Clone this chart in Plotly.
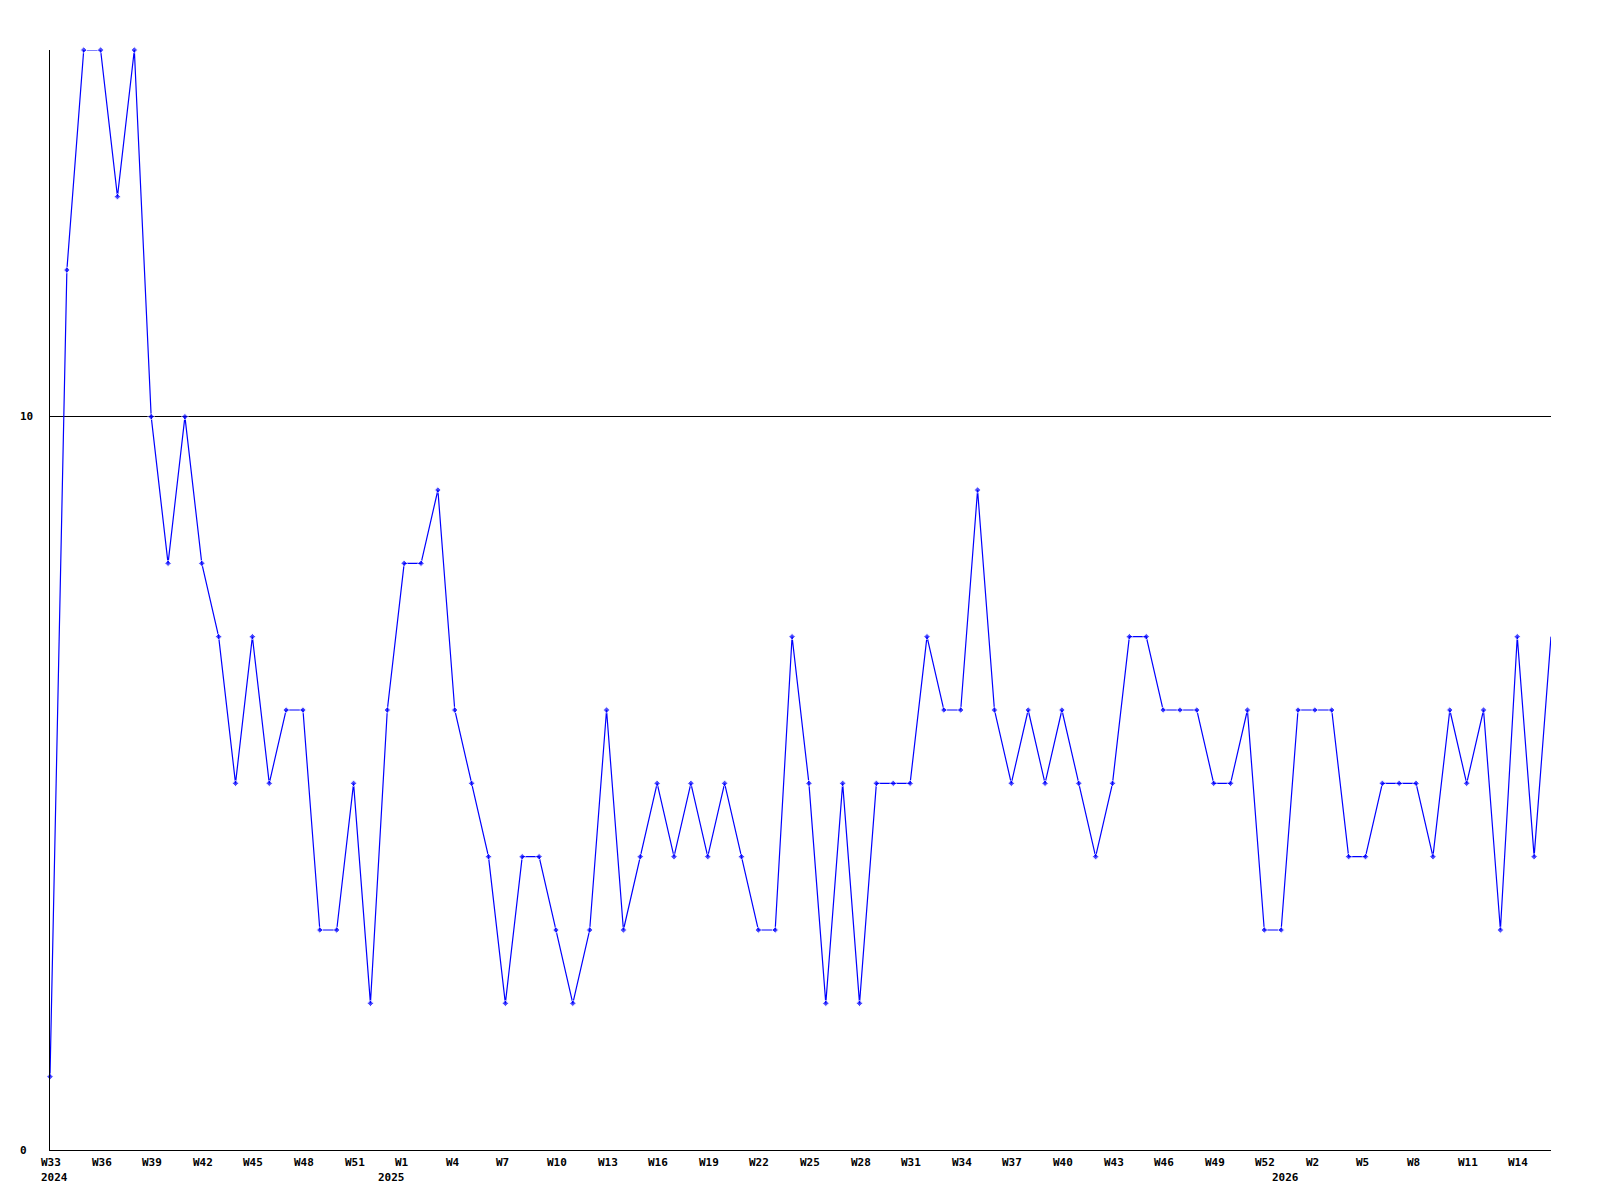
import plotly.graph_objects as go

# ---- data -------------------------------------------------------------
years = [2024] * 20 + [2025] * 53 + [2026] * 17
weeks = list(range(33, 53)) + list(range(0, 53)) + list(range(0, 17))
values = [
    1, 12, 15, 15, 13, 15, 10, 8, 10, 8, 7, 5, 7, 5, 6, 6, 3, 3, 5, 2,
    6, 8, 8, 9, 6, 5, 4, 2, 4, 4, 3, 2, 3, 6, 3, 4, 5, 4, 5, 4,
    5, 4, 3, 3, 7, 5, 2, 5, 2, 5, 5, 5, 7, 6, 6, 9, 6, 5, 6, 5,
    6, 5, 4, 5, 7, 7, 6, 6, 6, 5, 5, 6, 3, 3, 6, 6, 6, 4, 4, 5,
    5, 5, 4, 6, 5, 6, 3, 7, 4, 7,
]
y_ticks = [0, 10]
label_step = 3

# ---- figure -----------------------------------------------------------
n = len(values)
x = list(range(n))
FONT = dict(family="DejaVu Sans Mono", size=11, color="black", weight="bold")

marker_sizes = [5] * (n - 1) + [0]

fig = go.Figure(
    go.Scatter(
        x=x, y=values, mode="lines+markers",
        line=dict(color="#0000ff", width=1.2),
        marker=dict(symbol="diamond", size=marker_sizes, color="#0000ff"),
        cliponaxis=False, hoverinfo="x+y",
    )
)

annotations = []
for i in range(0, n, label_step):
    annotations.append(dict(
        x=i, xref="x", y=0, yref="paper", text=f"W{weeks[i]}",
        xanchor="left", yanchor="top", xshift=-11, yshift=-4,
        showarrow=False, font=FONT,
    ))
for i in range(n):
    if i == 0 or years[i] != years[i - 1]:
        annotations.append(dict(
            x=i, xref="x", y=0, yref="paper", text=str(years[i]),
            xanchor="left", yanchor="top", xshift=-11, yshift=-19,
            showarrow=False, font=FONT,
        ))
for v in y_ticks:
    annotations.append(dict(
        x=0, xref="paper", y=v, yref="y", text=str(v),
        xanchor="left", yanchor="middle", xshift=-32,
        showarrow=False, font=FONT,
    ))

fig.update_layout(
    width=1584, height=1184,
    margin=dict(l=42, r=41, t=42, b=42),
    paper_bgcolor="white", plot_bgcolor="white",
    showlegend=False,
    annotations=annotations,
    xaxis=dict(range=[0, n - 1], showgrid=False, zeroline=False,
               showticklabels=False, ticks="", showline=True,
               linecolor="black", linewidth=1),
    yaxis=dict(range=[0, 15], tickvals=y_ticks, showgrid=True,
               gridcolor="black", gridwidth=1, zeroline=False,
               showticklabels=False, ticks="", showline=True,
               linecolor="black", linewidth=1),
)

fig.write_html("out.html")
